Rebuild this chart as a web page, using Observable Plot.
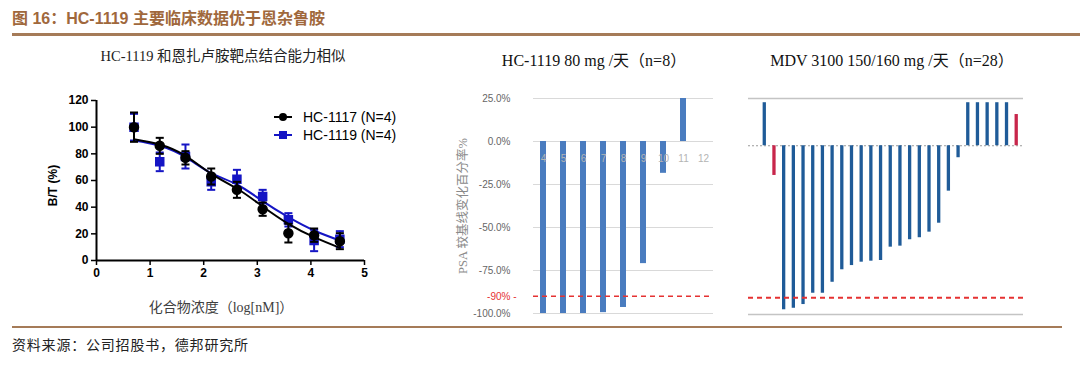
<!DOCTYPE html>
<html><head><meta charset="utf-8">
<script src="https://cdn.jsdelivr.net/npm/d3@7"></script>
<script src="https://cdn.jsdelivr.net/npm/@observablehq/plot@0.6"></script>
<style>
body{margin:0;background:#fff;}
#page{position:relative;width:1080px;height:376px;overflow:hidden;background:#fff;}
.t{position:absolute;white-space:nowrap;line-height:1;}
.c{transform:translate(-50%,-50%);}
.serif{font-family:"Liberation Serif","Noto Sans CJK SC",serif;}
.sans{font-family:"Liberation Sans","Noto Sans CJK SC",sans-serif;}
.chart{position:absolute;}
.chart svg{overflow:visible;}
</style></head>
<body><div id="page">
<div class="t sans" style="left:12px;top:11px;font-size:16px;font-weight:bold;color:#a0683c;">图 16：HC-1119 主要临床数据优于恩杂鲁胺</div>
<div style="position:absolute;left:12px;top:33px;width:1068px;height:2.5px;background:#a57b58;"></div>
<div class="t serif c" style="left:223px;top:56px;font-size:14.5px;color:#222;">HC-1119 和恩扎卢胺靶点结合能力相似</div>
<div class="t serif c" style="left:594px;top:61px;font-size:16px;color:#111;">HC-1119 80 mg /天（n=8）</div>
<div class="t serif c" style="left:892px;top:61px;font-size:16px;color:#111;">MDV 3100 150/160 mg /天（n=28）</div>
<div id="left" class="chart" style="left:0;top:80px;"></div>
<div id="mid" class="chart" style="left:440px;top:80px;"></div>
<div id="right" class="chart" style="left:740px;top:80px;"></div>
<div id="legend"></div>
<div class="t serif c" style="left:221px;top:308px;font-size:14px;color:#404040;">化合物浓度（log[nM]）</div>
<div style="position:absolute;left:12px;top:326px;width:1050px;height:2px;background:#a57b58;"></div>
<div class="t serif" style="left:12px;top:339px;font-size:14px;letter-spacing:0.8px;color:#222;">资料来源：公司招股书，德邦研究所</div>
</div>
<script>
// ---------- Left panel: binding curves ----------
const doseLog = [0.7, 1.18, 1.66, 2.14, 2.62, 3.1, 3.58, 4.06, 4.54];
const hc1117Mean = [100, 86, 77, 63, 53, 38.5, 20.5, 19, 14.5];
const hc1117Err  = [11, 6, 5, 6, 6, 5, 7, 5, 6];
const hc1117Fit  = [91, 87, 78.5, 65, 54, 40.5, 27.5, 17.5, 9.5];
const hc1119Mean = [100, 74, 78, 59, 61, 48, 30.5, 15, 16];
const hc1119Err  = [10, 7, 9, 6, 7, 5, 5, 8, 6];
const hc1119Fit  = [90, 86, 77.5, 65.5, 57, 44.5, 32.5, 22.5, 15];
const bindSeries = ["HC-1117 (N=4)", "HC-1119 (N=4)"];
const bindXTicks = [0, 1, 2, 3, 4, 5];
const bindYTicks = [0, 20, 40, 60, 80, 100, 120];

// ---------- Middle panel: HC-1119 waterfall ----------
const hcPatients = ["4", "5", "6", "7", "8", "9", "10", "11", "12"];
const hcPsaChange = [-100, -100, -100, -99.5, -96.5, -71, -18.5, 25, null];
const hcYTicks = [25, 0, -25, -50, -75, -100];
const psaThreshold = -90;
const hcYLabel = "PSA 较基线变化百分率%";

// ---------- Right panel: MDV 3100 waterfall ----------
const mdvPatients = ["1","2","3","4","5","6","7","8","9","10","11","12","13","14","15","16","17","18","19","20","21","22","23","24","25","26","27"];
const mdvPsaChange = [25.5, -17.6, -97.2, -96.3, -94.1, -87.4, -87.4, -80.9, -73.5, -71, -69, -68.4, -68, -60.1, -59.5, -55.7, -54.5, -51.2, -45.9, -26.9, -7.1, 25.5, 25.5, 25.5, 25.5, 25.5, 18.5];
const mdvGroup = ["A","B","A","A","A","A","A","A","A","A","A","A","A","A","A","A","A","A","A","A","A","A","A","A","A","A","B"];
const mdvYDomain = [-100, 28];

// ---- left chart ----
const c1117 = "#000000", c1119 = "#1515c4";
const rows1117 = doseLog.map((x, i) => ({x, y: hc1117Mean[i], e: hc1117Err[i], fit: hc1117Fit[i]}));
const rows1119 = doseLog.map((x, i) => ({x, y: hc1119Mean[i], e: hc1119Err[i], fit: hc1119Fit[i]}));
function seriesMarks(rows, color, symbol) {
  return [
    Plot.line(rows, {x: "x", y: "fit", stroke: color, strokeWidth: 2, curve: "natural"}),
    Plot.ruleX(rows, {x: "x", y1: d => d.y - d.e, y2: d => d.y + d.e, stroke: color, strokeWidth: 2}),
    Plot.link(rows, {x1: d => d.x - 0.075, x2: d => d.x + 0.075, y1: d => d.y + d.e, y2: d => d.y + d.e, stroke: color, strokeWidth: 2}),
    Plot.link(rows, {x1: d => d.x - 0.075, x2: d => d.x + 0.075, y1: d => d.y - d.e, y2: d => d.y - d.e, stroke: color, strokeWidth: 2}),
    Plot.dot(rows, {x: "x", y: "y", fill: color, stroke: color, r: 4.5, symbol})
  ];
}
const left = Plot.plot({
  width: 420, height: 230,
  marginLeft: 96, marginRight: 56, marginTop: 20, marginBottom: 50,
  x: {domain: [0, 5], label: null},
  y: {domain: [0, 120], label: null},
  style: {fontFamily: "Liberation Sans, Arial, sans-serif", fontSize: "12px", fontWeight: "bold", color: "#000", background: "transparent"},
  marks: [
    Plot.axisX({ticks: bindXTicks, tickFormat: d => String(d), tickSize: 5, tickPadding: 3, strokeWidth: 1.5, label: null, fontSize: 12}),
    Plot.axisY({ticks: bindYTicks, tickFormat: d => String(d), tickSize: 5, tickPadding: 3, strokeWidth: 1.5, label: null, fontSize: 12}),
    Plot.ruleX([0], {strokeWidth: 2}),
    Plot.ruleY([0], {strokeWidth: 2}),
    ...seriesMarks(rows1119, c1119, "square"),
    ...seriesMarks(rows1117, c1117, "circle"),
    Plot.text(["B/T (%)"], {frameAnchor: "left", textAnchor: "middle", rotate: -90, dx: -43, dy: 5, text: d => d, fontSize: 12, fontWeight: "bold"})
  ]
});
document.getElementById("left").append(left);

// legend
const legend = document.getElementById("legend");
[[bindSeries[0], c1117, "circle", 117], [bindSeries[1], c1119, "square", 135]].forEach(([label, color, sym, y]) => {
  const div = document.createElement("div");
  div.style.cssText = `position:absolute;left:272px;top:${y - 8}px;height:16px;display:flex;align-items:center;white-space:nowrap;`;
  const mark = sym === "circle"
    ? `<circle cx="11" cy="8" r="4" fill="${color}"/>`
    : `<rect x="7" y="4" width="8" height="8" fill="${color}"/>`;
  div.innerHTML = `<svg width="22" height="16" style="display:block"><line x1="2" x2="20" y1="8" y2="8" stroke="${color}" stroke-width="2"/>${mark}</svg><span style="margin-left:9px;font:14px 'Liberation Sans',Arial,sans-serif;color:#000;">${label}</span>`;
  legend.append(div);
});

// ---- middle chart ----
const hcRows = hcPatients.map((p, i) => ({p, v: hcPsaChange[i]})).filter(d => d.v != null);
const red = "#e53232";
const mid = Plot.plot({
  width: 300, height: 245,
  marginLeft: 93, marginRight: 27, marginTop: 18, marginBottom: 12,
  x: {type: "band", domain: hcPatients, paddingInner: 0.7, paddingOuter: 0.35, round: false, axis: null},
  y: {domain: [-100, 25], axis: null},
  style: {fontFamily: "Liberation Sans, Arial, sans-serif", fontSize: "10px", background: "transparent"},
  marks: [
    Plot.gridY(hcYTicks, {stroke: "#d9d9d9", strokeOpacity: 1}),
    Plot.axisY(hcYTicks, {tickSize: 0, tickPadding: 23, tickFormat: d => d.toFixed(1) + "%", fill: "#666", fontSize: 10, label: null}),
    Plot.barY(hcRows, {x: "p", y: "v", fill: "#4a7cbf"}),
    Plot.text(hcPatients, {x: d => d, y: () => 0, dy: 17, text: d => d, fill: "#b4b4b4", fontSize: 10}),
    Plot.ruleY([psaThreshold], {stroke: red, strokeWidth: 1.5, strokeDasharray: "5,4"}),
    Plot.text([psaThreshold], {y: d => d, text: d => d + "% -", frameAnchor: "left", textAnchor: "end", dx: -17, fill: red, fontSize: 10}),
    Plot.text([hcYLabel], {frameAnchor: "left", textAnchor: "middle", rotate: -90, dx: -71, text: d => d, fill: "#8a8a8a", fontSize: 12.5, fontFamily: "Liberation Serif, Noto Sans CJK SC, serif"})
  ]
});
document.getElementById("mid").append(mid);

// ---- right chart ----
const mdvRows = mdvPatients.map((p, i) => ({p, v: mdvPsaChange[i], g: mdvGroup[i]}));
const right = Plot.plot({
  width: 340, height: 245,
  marginLeft: 8, marginRight: 57, marginTop: 18, marginBottom: 11,
  x: {type: "band", domain: mdvPatients, paddingInner: 0.66, paddingOuter: 1.02, align: 0.74, round: false, axis: null},
  y: {domain: mdvYDomain, axis: null},
  color: {domain: ["A", "B"], range: ["#1f5b98", "#c8264b"]},
  style: {background: "transparent"},
  marks: [
    Plot.gridY(mdvYDomain, {stroke: "#c4c4c4", strokeOpacity: 1, strokeWidth: 1.5}),
    Plot.ruleY([0], {stroke: "#9a9a9a", strokeWidth: 1, strokeDasharray: "2,2"}),
    Plot.barY(mdvRows, {x: "p", y: "v", fill: "g"}),
    Plot.ruleY([psaThreshold], {stroke: red, strokeWidth: 2, strokeDasharray: "5,4"})
  ]
});
document.getElementById("right").append(right);
</script>
</body></html>
